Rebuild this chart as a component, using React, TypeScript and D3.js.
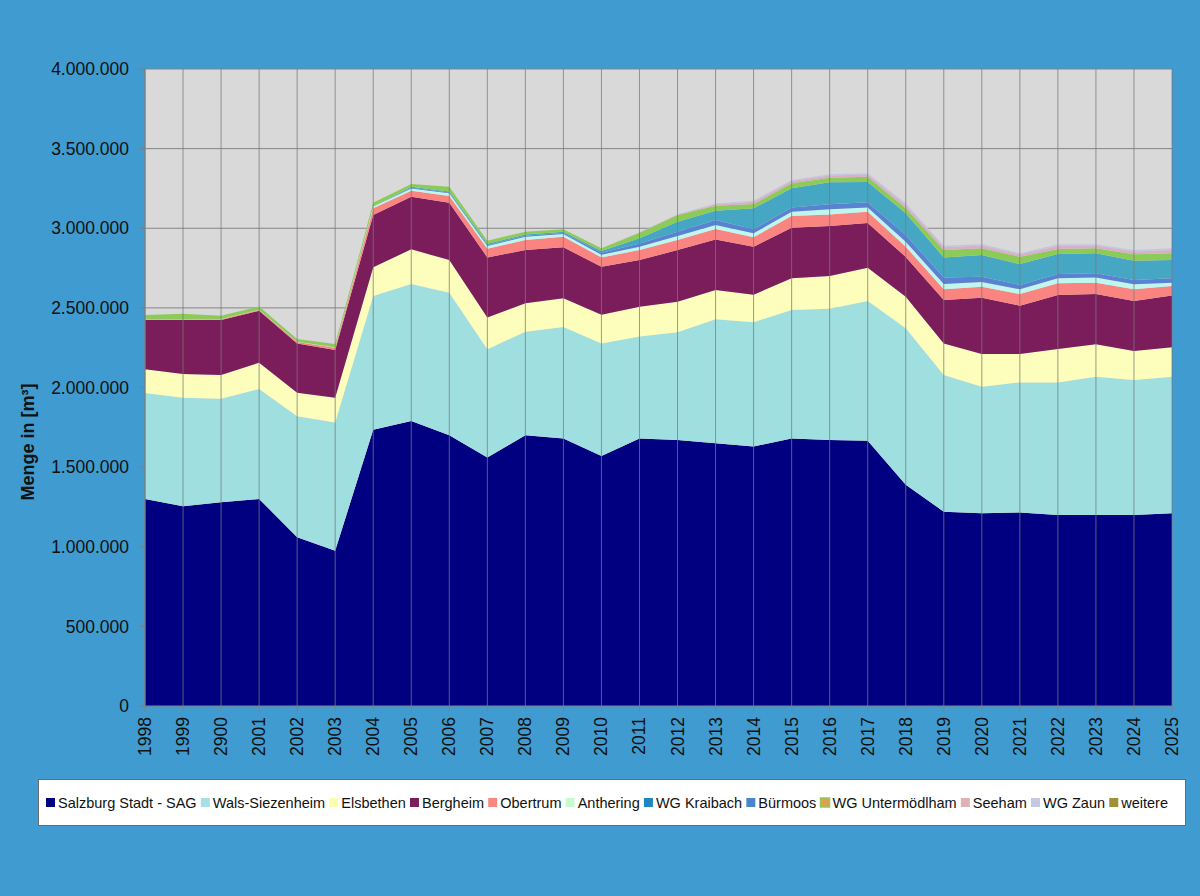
import React from 'react';
import * as d3 from 'd3';

const years = ['1998', '1999', '2900', '2001', '2002', '2003', '2004', '2005', '2006', '2007', '2008', '2009', '2010', '2011',
  '2012', '2013', '2014', '2015', '2016', '2017', '2018', '2019', '2020', '2021', '2022', '2023', '2024', '2025'];

// Menge in m³ je Versorger
const salzburgStadt = [1300000, 1255000, 1280000, 1300000, 1060000, 975000, 1735000, 1790000, 1700000, 1560000, 1700000, 1680000, 1570000, 1680000,
  1670000, 1650000, 1630000, 1680000, 1670000, 1665000, 1390000, 1220000, 1210000, 1215000, 1200000, 1200000, 1200000, 1210000];
const walsSiezenheim = [665000, 680000, 650000, 690000, 760000, 805000, 840000, 860000, 895000, 680000, 650000, 700000, 707000, 640000,
  677000, 778000, 780000, 807000, 825000, 878000, 982000, 858000, 795000, 817000, 832000, 868000, 847000, 858000];
const elsbethen = [149000, 150000, 148000, 166000, 147000, 156000, 180000, 218000, 205000, 200000, 179000, 180000, 180000, 187000,
  192000, 184000, 173000, 199000, 205000, 209000, 198000, 199000, 205000, 178000, 210000, 203000, 182000, 184000];
const bergheim = [310000, 339000, 346000, 326000, 310000, 299000, 328000, 330000, 360000, 377000, 334000, 320000, 302000, 293000,
  324000, 318000, 301000, 317000, 314000, 281000, 250000, 272000, 354000, 304000, 339000, 316000, 314000, 325000];
const obertrum = [4000, 4000, 4000, 5000, 8000, 15000, 42000, 38000, 42000, 54000, 63000, 67000, 58000, 63000,
  63000, 65000, 59000, 74000, 73000, 71000, 64000, 68000, 69000, 73000, 73000, 71000, 74000, 60000];
const anthering = [2000, 2000, 2000, 2000, 2000, 2000, 12000, 14000, 18000, 17000, 21000, 17000, 17000, 21000,
  25000, 25000, 25000, 27000, 32000, 27000, 31000, 33000, 29000, 30000, 32000, 32000, 31000, 21000];
const wgKraibach = [0, 0, 0, 0, 0, 0, 0, 5000, 6000, 8000, 8000, 8000, 11000, 32000,
  63000, 58000, 132000, 120000, 139000, 127000, 136000, 127000, 136000, 131000, 125000, 126000, 121000, 114000];
const buermoos = [0, 0, 0, 0, 0, 0, 0, 5000, 5000, 6000, 6000, 6000, 12000, 21000,
  27000, 32000, 25000, 27000, 31000, 32000, 43000, 40000, 34000, 27000, 27000, 27000, 27000, 28000];
const wgUntermoedlham = [25000, 33000, 21000, 20000, 18000, 21000, 23000, 18000, 30000, 20000, 17000, 15000, 17000, 35000,
  42000, 31000, 27000, 31000, 28000, 33000, 31000, 46000, 42000, 46000, 31000, 31000, 40000, 43000];
const seeham = [0, 0, 0, 0, 0, 0, 0, 0, 0, 0, 0, 0, 0, 2000,
  3000, 9000, 14000, 14000, 15000, 15000, 20000, 18000, 18000, 15000, 20000, 17000, 18000, 20000];
const wgZaun = [0, 0, 0, 0, 0, 0, 0, 0, 0, 0, 0, 0, 0, 1000,
  2000, 5000, 7000, 7000, 7000, 7000, 12000, 9000, 9000, 7000, 10000, 8000, 9000, 11000];
const weitere = [0, 0, 0, 0, 0, 0, 0, 0, 0, 0, 0, 0, 0, 0,
  0, 0, 0, 0, 0, 0, 0, 0, 0, 0, 0, 0, 0, 0];

const yTicks = [0, 500000, 1000000, 1500000, 2000000, 2500000, 3000000, 3500000, 4000000];

interface Series {
  name: string;
  values: number[];
  fill: string;
  legendFill: string;
  legendStroke?: string;
}

// legend order
const series: Series[] = [
  { name: 'Salzburg Stadt - SAG', values: salzburgStadt, fill: '#000080', legendFill: '#000080' },
  { name: 'Wals-Siezenheim', values: walsSiezenheim, fill: '#a0dfe0', legendFill: '#a6dfe6' },
  { name: 'Elsbethen', values: elsbethen, fill: '#fdfdbc', legendFill: '#fdfdb0' },
  { name: 'Bergheim', values: bergheim, fill: '#7b1c5b', legendFill: '#7b1c5b' },
  { name: 'Obertrum', values: obertrum, fill: '#fa8480', legendFill: '#f88880' },
  { name: 'Anthering', values: anthering, fill: '#bff6ee', legendFill: '#c8fad0' },
  { name: 'WG Kraibach', values: wgKraibach, fill: '#45a7c4', legendFill: '#1f86c0' },
  { name: 'Bürmoos', values: buermoos, fill: '#5a82d2', legendFill: '#4a86cc' },
  { name: 'WG Untermödlham', values: wgUntermoedlham, fill: '#8ccb58', legendFill: '#e0a050', legendStroke: '#8ccb58' },
  { name: 'Seeham', values: seeham, fill: '#d8b0c6', legendFill: '#e0b0b8' },
  { name: 'WG Zaun', values: wgZaun, fill: '#c2c6e2', legendFill: '#c4c8e0' },
  { name: 'weitere', values: weitere, fill: '#a09038', legendFill: '#a09038' },
];

// stacking order as it appears in the picture
const stackOrder = ['Salzburg Stadt - SAG', 'Wals-Siezenheim', 'Elsbethen', 'Bergheim', 'Obertrum', 'Anthering',
  'Bürmoos', 'WG Kraibach', 'WG Untermödlham', 'Seeham', 'WG Zaun', 'weitere'];

const W = 1200;
const H = 896;
const margin = { left: 145, right: 28, top: 69, bottom: 190 };
const FONT = '"Liberation Sans", Arial, sans-serif';

const de = d3.formatLocale({ decimal: ',', thousands: '.', grouping: [3], currency: ['', '€'] });
const fmt = de.format(',');

function measure(text: string, size: number) {
  const c = document.createElement('canvas').getContext('2d');
  if (!c) return text.length * size * 0.55;
  c.font = `${size}px "Liberation Sans", Arial, sans-serif`;
  return c.measureText(text).width;
}

export default function App() {
  const x = d3.scalePoint<string>().domain(years).range([margin.left, W - margin.right]).padding(0);
  const y = d3.scaleLinear().domain([0, 4000000]).range([H - margin.bottom, margin.top]);

  const rows = years.map((yr, i) => {
    const r: Record<string, any> = { year: yr };
    series.forEach(s => { r[s.name] = s.values[i]; });
    return r;
  });
  const stacked = d3.stack<Record<string, any>>().keys(stackOrder)(rows);
  const area = d3.area<d3.SeriesPoint<Record<string, any>>>()
    .x(d => x(d.data.year) as number)
    .y0(d => y(d[0]))
    .y1(d => y(d[1]));

  const byName = new Map(series.map(s => [s.name, s]));
  const plotBottom = H - margin.bottom;

  // legend layout
  const legendSize = 14.5;
  const sq = 9;
  const widths = series.map(s => measure(s.name, legendSize));
  const legendLeft = 46;
  const legendRight = 1168;
  const itemW = widths.map(w => sq + 3 + w);
  const gap = (legendRight - legendLeft - d3.sum(itemW)) / (series.length - 1);
  let cx = legendLeft;
  const legendPos = itemW.map(w => { const p = cx; cx += w + gap; return p; });

  return (
    <svg width={W} height={H} style={{ position: 'absolute', left: 0, top: 0, display: 'block' }}>
      <rect x={0} y={0} width={W} height={H} fill="#3f9bd0" />
      <rect x={margin.left} y={margin.top} width={W - margin.right - margin.left} height={plotBottom - margin.top} fill="#d9d9d9" />

      {yTicks.filter(t => t > 0).map(t => (
        <line key={t} x1={margin.left} x2={W - margin.right} y1={y(t)} y2={y(t)} stroke="#858585" strokeWidth={1} />
      ))}

      {stacked.map(layer => (
        <path key={layer.key} d={area(layer) || ''} fill={byName.get(layer.key)!.fill} />
      ))}

      {years.map(yr => (
        <line key={yr} x1={x(yr)} x2={x(yr)} y1={margin.top} y2={plotBottom} stroke="#7a7a7a" strokeOpacity={0.75} strokeWidth={1} />
      ))}

      {/* axes */}
      <line x1={margin.left} x2={margin.left} y1={margin.top} y2={plotBottom} stroke="#808080" />
      <line x1={margin.left} x2={W - margin.right} y1={plotBottom} y2={plotBottom} stroke="#808080" />
      {yTicks.map(t => (
        <g key={t}>
          <line x1={margin.left - 6} x2={margin.left} y1={y(t)} y2={y(t)} stroke="#808080" />
          <text x={margin.left - 16} y={y(t)} dy="0.35em" textAnchor="end" fontFamily={FONT} fontSize={17.5} fill="#111">
            {fmt(t)}
          </text>
        </g>
      ))}
      {years.map(yr => (
        <g key={yr}>
          <line x1={x(yr)} x2={x(yr)} y1={plotBottom} y2={plotBottom + 6} stroke="#808080" />
          <text transform={`translate(${x(yr)! + 6},${plotBottom + 11}) rotate(-90)`} textAnchor="end"
            fontFamily={FONT} fontSize={17.5} fill="#111">{yr}</text>
        </g>
      ))}

      <text transform="translate(34,442) rotate(-90)" textAnchor="middle" fontFamily={FONT} fontSize={18} fontWeight="bold" fill="#111">
        Menge in [m³]
      </text>

      {/* legend */}
      <rect x={38.5} y={779.5} width={1147} height={46} fill="#ffffff" stroke="#6a6a6a" strokeWidth={1} />
      {series.map((s, i) => (
        <g key={s.name} transform={`translate(${legendPos[i]},0)`}>
          <rect x={0} y={798} width={sq} height={sq} fill={s.legendFill}
            stroke={s.legendStroke || 'none'} strokeWidth={s.legendStroke ? 1.5 : 0} />
          <text x={sq + 3} y={807.5} fontFamily={FONT} fontSize={legendSize} fill="#111">{s.name}</text>
        </g>
      ))}
    </svg>
  );
}
